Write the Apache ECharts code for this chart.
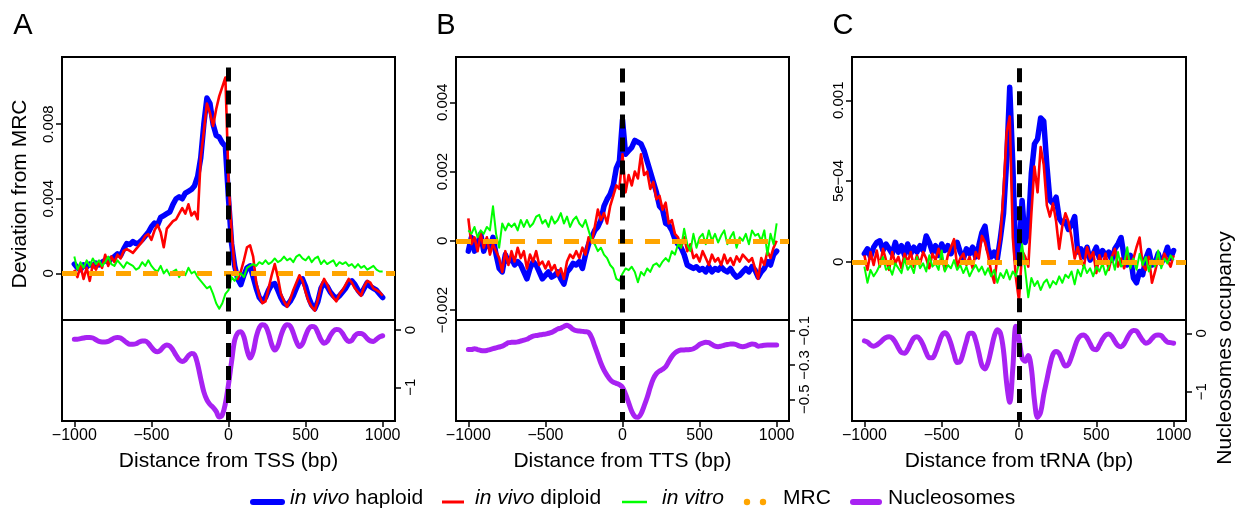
<!DOCTYPE html>
<html>
<head>
<meta charset="utf-8">
<script src="https://cdn.jsdelivr.net/npm/echarts@6/dist/echarts.min.js"></script>
<style>
html,body{margin:0;padding:0;background:#fff;}
#chart{width:1237px;height:510px;}
</style>
</head>
<body>
<div id="chart"></div>
<script>
// ---------------- DATA ----------------
const positions = [-1000,-980,-960,-940,-920,-900,-880,-860,-840,-820,
-800,-780,-760,-740,-720,-700,-680,-660,-640,-620,
-600,-580,-560,-540,-520,-500,-480,-460,-440,-420,
-400,-380,-360,-340,-320,-300,-280,-260,-240,-220,
-200,-180,-160,-140,-120,-100,-80,-60,-40,-20,
0,20,40,60,80,100,120,140,160,180,
200,220,240,260,280,300,320,340,360,380,
400,420,440,460,480,500,520,540,560,580,
600,620,640,660,680,700,720,740,760,780,
800,820,840,860,880,900,920,940,960,980,
1000];

// Panel A (TSS) deviation values, in units of 1e-3
const aHaploid = [0.5,0.3,0.2,0.45,0.35,0.5,0.4,0.55,0.45,0.6,
0.7,0.6,0.8,0.9,1.05,0.95,1.3,1.6,1.55,1.7,
1.6,1.65,1.8,2.0,2.2,2.5,2.7,2.6,3.0,3.1,
3.2,3.3,3.7,4.0,4.1,4.0,4.3,4.4,4.5,4.7,
5.2,6.2,8.0,9.4,9.1,8.0,7.4,7.3,7.0,6.8,
4.0,1.6,0.4,-0.3,-0.6,-0.1,0.3,0.4,-0.2,-0.8,
-1.3,-1.5,-1.3,-0.9,-0.6,-0.55,-0.9,-1.3,-1.6,-1.7,
-1.5,-1.2,-0.8,-0.4,-0.3,-0.7,-1.3,-1.7,-1.9,-1.5,
-0.8,-0.5,-0.7,-1.0,-1.2,-1.35,-1.2,-1.0,-0.8,-0.5,
-0.4,-0.6,-0.9,-1.1,-0.8,-0.5,-0.7,-0.8,-0.9,-1.1,
-1.3];
const aDiploid = [0.2,-0.2,0.4,-0.3,0.3,-0.4,0.5,0.2,0.6,0.3,
1.0,0.4,0.9,0.6,1.0,0.8,1.2,1.3,1.2,1.1,
1.3,1.5,1.7,2.0,2.1,1.8,2.3,2.6,2.2,1.4,
2.4,2.6,2.8,2.9,3.2,3.5,3.2,3.7,3.1,3.3,
2.9,6.2,7.6,9.1,8.6,7.9,8.8,9.5,10.0,10.5,
5.0,2.2,0.3,-0.3,0.1,0.7,1.4,1.5,0.9,-0.5,
-1.2,-1.6,-1.5,-0.8,-0.1,0.5,-0.2,-1.1,-1.5,-1.8,
-1.4,-0.9,-0.5,-0.1,-0.4,-1.0,-1.5,-1.8,-2.0,-1.4,
-0.7,-0.3,-0.6,-1.0,-1.3,-1.5,-1.1,-0.9,-0.6,-0.3,
-0.5,-0.8,-1.0,-1.2,-0.7,-0.4,-0.5,-0.8,-0.9,-1.0,
-1.2];
const aVitro = [0.9,0.2,0.6,0.3,0.7,0.4,0.8,0.5,0.7,0.4,
0.6,0.9,0.5,0.4,0.7,0.5,0.3,0.6,0.5,0.4,
0.2,0.3,0.6,0.4,0.7,0.4,0.2,0.1,0.4,0.0,
0.2,-0.1,0.1,0.2,-0.2,0.1,-0.1,0.3,0.0,0.1,
-0.2,-0.4,-0.6,-0.8,-0.7,-1.1,-1.6,-1.9,-1.6,-1.1,
-0.9,-0.2,-0.4,-0.1,0.0,-0.2,0.3,0.4,0.5,0.4,
0.6,0.5,0.7,0.5,0.6,0.8,0.6,0.7,0.9,0.7,
0.8,0.6,0.9,1.0,0.8,0.7,0.9,0.6,0.8,0.9,
0.5,0.7,0.5,0.6,0.7,0.4,0.6,0.5,0.6,0.4,
0.5,0.3,0.5,0.3,0.4,0.2,0.3,0.4,0.2,0.1,
0.1];
const aNucleo = [-0.16,-0.16,-0.15,-0.14,-0.13,-0.13,-0.14,-0.17,-0.2,-0.21,
-0.21,-0.2,-0.17,-0.14,-0.13,-0.14,-0.18,-0.22,-0.25,-0.25,
-0.24,-0.21,-0.19,-0.19,-0.23,-0.3,-0.36,-0.38,-0.35,-0.29,
-0.26,-0.28,-0.35,-0.44,-0.52,-0.55,-0.52,-0.45,-0.41,-0.43,
-0.6,-0.85,-1.08,-1.22,-1.3,-1.35,-1.42,-1.52,-1.48,-1.28,
-0.95,-0.55,-0.18,-0.05,-0.03,-0.12,-0.35,-0.49,-0.38,-0.12,
0.04,0.09,0.07,-0.06,-0.25,-0.35,-0.28,-0.1,0.04,0.09,
0.07,-0.05,-0.2,-0.29,-0.24,-0.1,0.02,0.06,0.05,-0.05,
-0.17,-0.23,-0.2,-0.1,-0.02,0.01,0.0,-0.06,-0.15,-0.2,
-0.18,-0.1,-0.06,-0.06,-0.09,-0.15,-0.19,-0.2,-0.16,-0.12,
-0.1];

// Panel B (TTS) deviation values, in units of 1e-3
const bHaploid = [-0.3,0.1,-0.3,-0.1,0.2,-0.3,0.0,-0.2,0.1,-0.4,
-0.8,-0.9,-0.4,-0.6,-0.5,-0.7,-0.6,-0.7,-0.9,-1.1,
-0.8,-0.6,-0.7,-0.9,-1.1,-1.0,-0.9,-1.05,-1.0,-0.9,
-1.1,-1.25,-0.9,-0.8,-0.65,-0.7,-0.6,-0.8,-0.4,-0.1,
0.1,0.3,0.4,0.6,1.0,1.2,1.35,1.6,2.1,2.3,
3.5,2.5,2.6,2.7,2.9,2.85,2.8,2.6,2.3,2.0,
1.7,1.4,1.0,0.9,0.5,0.45,0.3,0.05,-0.1,-0.2,
-0.4,-0.7,-0.75,-0.8,-0.75,-0.85,-0.8,-0.9,-0.75,-0.9,
-0.8,-0.85,-0.75,-0.85,-0.9,-0.8,-0.95,-1.05,-1.0,-0.9,
-0.8,-0.9,-0.75,-0.85,-1.05,-0.9,-0.8,-0.6,-0.7,-0.4,
-0.3];
const bDiploid = [0.65,-0.1,0.1,-0.3,0.2,-0.2,0.1,-0.4,-0.1,-0.3,
-0.5,-0.9,-0.3,-0.7,-0.3,-0.6,-0.2,-0.5,-0.3,-0.8,
-0.4,-0.6,-0.3,-0.7,-0.6,-0.8,-0.6,-0.85,-0.7,-1.0,
-0.8,-1.1,-0.6,-0.4,-0.5,-0.3,-0.5,-0.2,-0.4,0.1,
-0.05,0.4,0.9,0.6,0.8,0.5,1.0,1.3,1.6,1.5,
2.5,1.4,1.9,1.6,2.0,1.8,2.5,1.9,2.0,1.5,
1.7,1.2,1.3,0.9,1.1,0.5,0.6,0.2,0.1,-0.2,
0.1,-0.3,-0.1,-0.5,-0.4,-0.6,-0.3,-0.5,-0.7,-0.4,
-0.6,-0.5,-0.7,-0.4,-0.65,-0.5,-0.7,-0.45,-0.6,-0.4,
-0.5,-0.6,-0.5,-0.8,-1.1,-0.5,-0.7,-0.3,-0.5,-0.2,
0.0];
const bVitro = [0.3,0.2,0.4,0.1,0.3,0.2,0.4,0.3,1.0,0.2,
-0.2,0.5,0.3,0.5,0.4,0.5,0.3,0.6,0.4,0.6,
0.4,0.5,0.7,0.75,0.5,0.6,0.4,0.7,0.5,0.6,
0.8,0.5,0.7,0.4,0.6,0.7,0.5,0.4,0.6,0.3,
0.0,-0.1,-0.3,-0.2,-0.4,-0.5,-0.7,-0.8,-1.1,-1.15,
-0.95,-0.8,-0.85,-0.75,-0.9,-1.2,-0.9,-1.0,-0.8,-0.9,
-0.7,-0.65,-0.75,-0.6,-0.5,-0.6,-0.3,-0.4,-0.1,-0.2,
0.35,-0.1,-0.3,0.2,-0.2,0.1,0.2,-0.1,0.3,0.0,
0.2,-0.05,0.15,0.3,-0.1,0.1,0.25,-0.2,0.1,0.0,
0.2,-0.1,0.3,0.15,0.2,0.0,0.3,-0.4,0.2,-0.1,
0.5];
const bNucleo = [-0.21,-0.21,-0.205,-0.21,-0.215,-0.217,-0.215,-0.21,-0.205,-0.2,
-0.195,-0.19,-0.18,-0.17,-0.168,-0.167,-0.165,-0.16,-0.155,-0.15,
-0.14,-0.132,-0.128,-0.125,-0.122,-0.12,-0.115,-0.11,-0.1,-0.09,
-0.085,-0.075,-0.068,-0.078,-0.092,-0.1,-0.102,-0.104,-0.106,-0.11,
-0.14,-0.19,-0.24,-0.29,-0.33,-0.36,-0.385,-0.4,-0.407,-0.415,
-0.43,-0.47,-0.52,-0.57,-0.6,-0.605,-0.585,-0.54,-0.49,-0.43,
-0.38,-0.35,-0.335,-0.325,-0.31,-0.28,-0.25,-0.23,-0.218,-0.213,
-0.212,-0.211,-0.21,-0.205,-0.195,-0.18,-0.172,-0.168,-0.17,-0.18,
-0.19,-0.193,-0.19,-0.185,-0.18,-0.178,-0.177,-0.182,-0.19,-0.193,
-0.19,-0.183,-0.178,-0.18,-0.19,-0.188,-0.185,-0.184,-0.184,-0.183,
-0.183];

// Panel C (tRNA) deviation values, in units of 1e-4
const cHaploid = [0.5,0.8,0.3,0.9,1.2,1.3,0.7,1.1,0.8,0.5,
1.2,0.6,1.0,0.4,1.1,0.5,0.9,0.6,1.0,0.7,
1.6,1.2,0.6,1.0,0.4,1.1,0.7,1.0,0.5,0.9,
1.2,0.6,0.2,0.8,0.5,0.9,0.3,1.0,1.8,2.2,
0.8,0.3,0.6,0.2,1.5,3.0,6.2,10.8,6.0,0.2,
0.5,3.8,1.2,2.0,5.5,7.3,7.6,8.9,8.7,6.0,
3.8,3.6,4.0,2.7,2.4,2.5,2.0,2.3,2.8,0.6,
0.8,0.3,0.9,0.1,0.5,0.9,0.2,0.7,0.4,0.6,
0.1,0.8,1.1,1.5,0.3,-0.2,0.4,-1.0,-1.3,-0.6,
-0.8,0.2,0.7,-0.2,-0.1,0.5,-0.1,0.3,0.9,0.2,
0.7];
const cDiploid = [0.4,-0.5,0.6,-0.2,0.7,-0.3,0.8,0.1,-0.5,0.6,
-0.1,0.3,-0.4,0.5,0.0,0.6,-0.3,0.4,-0.1,0.6,
0.2,-0.4,0.5,0.1,0.8,0.3,-0.5,0.4,0.9,1.4,
-0.3,0.2,0.5,-0.2,0.3,-0.4,0.6,0.2,1.6,1.2,
0.4,-0.6,-1.3,0.3,1.5,4.4,8.0,9.0,1.5,-1.0,
-2.4,0.7,0.3,-0.3,3.0,5.9,4.3,7.1,6.0,3.5,
2.8,3.6,2.5,0.8,2.2,3.0,2.5,1.5,0.2,0.9,
0.1,-0.3,0.9,0.2,0.6,-0.7,0.4,-0.2,0.5,-0.5,
0.3,0.8,-0.3,0.2,-0.4,0.5,-0.1,0.2,0.9,1.5,
-0.2,-0.5,0.3,-1.3,-0.6,0.2,-0.2,0.5,0.1,-0.3,
0.4];
const cVitro = [-0.3,-1.3,-0.5,-0.9,-0.6,-0.2,0.3,-0.5,-0.3,-0.8,
-0.1,-0.4,-0.7,0.2,-0.5,-0.2,-0.7,0.3,-0.4,-0.1,
-0.6,0.4,-0.3,-0.1,-0.5,0.7,-0.6,-0.2,-0.4,0.1,
-0.5,-0.2,-0.7,-0.3,-0.9,-0.5,-0.2,-0.6,-0.3,-0.8,
-0.4,-0.9,-0.5,-1.3,-0.7,-1.0,-0.5,-1.1,-0.6,-0.9,
-0.1,1.1,-0.5,-2.2,-1.0,-1.5,-1.2,-1.75,-1.3,-1.1,
-1.6,-1.2,-1.4,-0.9,-1.3,-0.8,-1.0,-0.6,-1.4,-0.5,
-0.9,-0.2,-0.7,-0.4,-0.9,-0.3,-0.6,-0.1,-0.8,-0.3,
0.3,-0.5,0.6,-0.3,-0.1,0.9,-0.4,0.2,-0.5,0.5,
-0.2,0.3,-0.6,0.1,-0.3,0.7,-0.4,0.2,-0.1,0.4,
0.1];
const cNucleo = [-0.13,-0.15,-0.2,-0.22,-0.2,-0.16,-0.11,-0.07,-0.06,-0.08,
-0.15,-0.25,-0.33,-0.34,-0.28,-0.17,-0.08,-0.06,-0.1,-0.2,
-0.33,-0.42,-0.42,-0.33,-0.18,-0.04,0.01,-0.04,-0.18,-0.36,
-0.5,-0.48,-0.33,-0.14,0.0,0.0,-0.12,-0.33,-0.55,-0.61,
-0.5,-0.28,-0.05,0.06,0.0,-0.3,-0.85,-1.18,-0.6,0.12,
-0.1,-0.42,-0.48,-0.38,-0.6,-1.15,-1.44,-1.35,-1.05,-0.8,
-0.55,-0.36,-0.31,-0.35,-0.47,-0.56,-0.53,-0.4,-0.24,-0.1,
-0.04,-0.03,-0.08,-0.18,-0.27,-0.28,-0.2,-0.1,-0.03,-0.01,
-0.05,-0.14,-0.21,-0.23,-0.18,-0.08,0.01,0.05,0.04,-0.04,
-0.12,-0.17,-0.15,-0.09,-0.04,-0.03,-0.04,-0.1,-0.15,-0.16,
-0.17];

const mrcLevel = 0;      // MRC reference (deviation from itself)
const siteCenter = 0;    // TSS / TTS / tRNA position

// Tick values and labels
const xTicks = [-1000, -500, 0, 500, 1000];
const xTickLabels = ['\u22121000', '\u2212500', '0', '500', '1000'];
const aTopTicks = [0, 0.004, 0.008];
const aTopTickLabels = ['0', '0.004', '0.008'];
const aBotTicks = [0, -1];
const aBotTickLabels = ['0', '\u22121'];
const bTopTicks = [-0.002, 0, 0.002, 0.004];
const bTopTickLabels = ['\u22120.002', '0', '0.002', '0.004'];
const bBotTicks = [-0.5, -0.3, -0.1];
const bBotTickLabels = ['\u22120.5', '\u22120.3', '\u22120.1'];
const cTopTicks = [0, 0.0005, 0.001];
const cTopTickLabels = ['0', '5e\u221204', '0.001'];
const cBotTicks = [0, -1];
const cBotTickLabels = ['0', '\u22121'];

const xTitles = ['Distance from TSS (bp)', 'Distance from TTS (bp)', 'Distance from tRNA (bp)'];
const panelLetters = ['A', 'B', 'C'];

// ---------------- CHART ----------------
const FONT = "'Liberation Sans', Arial, Helvetica, sans-serif";
const COL = {hap:'#0000FF', dip:'#FF0000', vit:'#00FF00', mrc:'#FFA500', nuc:'#A822F2'};

const panels = [
  {left:62, width:333, unit:1e-3, hap:aHaploid, dip:aDiploid, vit:aVitro, nuc:aNucleo,
   topMin:-0.0025, topMax:0.0116, botMin:-1.588, botMax:0.1745, dashTop:0.01104,
   topTicks:aTopTicks, topLabels:aTopTickLabels, botTicks:aBotTicks, botLabels:aBotTickLabels},
  {left:456, width:333, unit:1e-3, hap:bHaploid, dip:bDiploid, vit:bVitro, nuc:bNucleo,
   topMin:-0.002289, topMax:0.00531, botMin:-0.6265, botMax:-0.0376, dashTop:0.00498,
   topTicks:bTopTicks, topLabels:bTopTickLabels, botTicks:bBotTicks, botLabels:bBotTickLabels},
  {left:852, width:334, unit:1e-4, hap:cHaploid, dip:cDiploid, vit:cVitro, nuc:cNucleo,
   topMin:-0.0003605, topMax:0.0012678, botMin:-1.5017, botMax:0.2277, dashTop:0.001198,
   topTicks:cTopTicks, topLabels:cTopTickLabels, botTicks:cBotTicks, botLabels:cBotTickLabels}
];

function lookup(ticks, labels){
  return function(v){
    for (let i=0;i<ticks.length;i++){ if (Math.abs(ticks[i]-v) < 1e-9) return labels[i]; }
    return '';
  };
}

const grids = [], xAxes = [], yAxes = [], series = [];
const tickStyle = {color:'#000', width:1.5};

panels.forEach((p, k) => {
  const gt = 2*k, gb = 2*k+1;
  grids.push({left:p.left, width:p.width, top:57, height:263, show:true, borderColor:'#000', borderWidth:2, backgroundColor:'transparent', outerBoundsMode:'none', containLabel:false});
  grids.push({left:p.left, width:p.width, top:320, height:101, show:true, borderColor:'#000', borderWidth:2, backgroundColor:'transparent', outerBoundsMode:'none', containLabel:false});

  xAxes.push({gridIndex:gt, type:'value', min:-1080, max:1080, show:false, splitLine:{show:false}});
  xAxes.push({gridIndex:gb, type:'value', min:-1080, max:1080, position:'bottom',
    axisLine:{show:true, onZero:false, lineStyle:{color:'#000', width:2}},
    axisTick:{show:true, length:6, lineStyle:tickStyle, customValues:xTicks},
    axisLabel:{show:true, customValues:xTicks, formatter:lookup(xTicks, xTickLabels), margin:7, fontSize:16, color:'#000', fontFamily:FONT},
    splitLine:{show:false},
    name:xTitles[k], nameLocation:'middle', nameGap:30,
    nameTextStyle:{fontSize:21, color:'#000', fontFamily:FONT}});

  yAxes.push({gridIndex:gt, type:'value', min:p.topMin, max:p.topMax, position:'left',
    axisLine:{show:false, onZero:false},
    axisTick:{show:true, length:6, lineStyle:tickStyle, customValues:p.topTicks},
    axisLabel:{show:true, customValues:p.topTicks, formatter:lookup(p.topTicks, p.topLabels), rotate:90, margin:6, fontSize:15, color:'#000', fontFamily:FONT},
    splitLine:{show:false}});
  yAxes.push({gridIndex:gb, type:'value', min:p.botMin, max:p.botMax, position:'right',
    axisLine:{show:false, onZero:false},
    axisTick:{show:true, length:6, lineStyle:tickStyle, customValues:p.botTicks},
    axisLabel:{show:true, customValues:p.botTicks, formatter:lookup(p.botTicks, p.botLabels), rotate:90, margin:8, fontSize:15, color:'#000', fontFamily:FONT},
    splitLine:{show:false}});

  const mk = (vals, unit) => positions.map((x, i) => [x, vals[i]*unit]);
  series.push({name:'in vivo haploid', type:'line', xAxisIndex:gt, yAxisIndex:gt, data:mk(p.hap, p.unit), showSymbol:false, symbol:'none', z:2,
    lineStyle:{color:COL.hap, width:5.5, join:'round', cap:'round'}});
  series.push({name:'in vivo diploid', type:'line', xAxisIndex:gt, yAxisIndex:gt, data:mk(p.dip, p.unit), showSymbol:false, symbol:'none', z:3,
    lineStyle:{color:COL.dip, width:2.6, join:'round'}});
  series.push({name:'in vitro', type:'line', xAxisIndex:gt, yAxisIndex:gt, data:mk(p.vit, p.unit), showSymbol:false, symbol:'none', z:4,
    lineStyle:{color:COL.vit, width:2, join:'round'}});
  series.push({name:'MRC', type:'line', xAxisIndex:gt, yAxisIndex:gt, data:[], symbol:'none', z:5,
    markLine:{silent:true, symbol:['none','none'], label:{show:false}, animation:false,
      lineStyle:{color:COL.mrc, width:5, type:[15,12]}, data:[{yAxis:mrcLevel}]}});
  series.push({name:'Nucleosomes', type:'line', xAxisIndex:gb, yAxisIndex:gb, data:mk(p.nuc, 1), showSymbol:false, symbol:'none', smooth:0.35, z:4,
    lineStyle:{color:COL.nuc, width:5, join:'round', cap:'round'}});
  series.push({name:'site', type:'line', xAxisIndex:gt, yAxisIndex:gt, data:[], symbol:'none', z:10,
    markLine:{silent:true, symbol:['none','none'], label:{show:false}, animation:false,
      lineStyle:{color:'#000', width:5, type:[14,9]},
      data:[[{coord:[siteCenter, p.dashTop]}, {coord:[siteCenter, p.topMin]}]]}});
  series.push({name:'site2', type:'line', xAxisIndex:gb, yAxisIndex:gb, data:[], symbol:'none', z:10,
    markLine:{silent:true, symbol:['none','none'], label:{show:false}, animation:false,
      lineStyle:{color:'#000', width:5, type:[14,9]},
      data:[[{coord:[siteCenter, p.botMax]}, {coord:[siteCenter, p.botMin]}]]}});
});

// Graphic texts (panel letters, axis titles, legend)
const graphics = [];
const letterX = [23, 446, 843];
panelLetters.forEach((L, k) => {
  graphics.push({type:'text', x:letterX[k], y:26, style:{text:L, fontSize:29, fontFamily:FONT, fill:'#000', align:'center', verticalAlign:'middle', textAlign:'center', textVerticalAlign:'middle'}});
});
graphics.push({type:'text', x:20, y:194, rotation:Math.PI/2, style:{text:'Deviation from MRC', fontSize:21, fontFamily:FONT, fill:'#000', align:'center', verticalAlign:'middle', textAlign:'center', textVerticalAlign:'middle'}});
graphics.push({type:'text', x:1225, y:348, rotation:Math.PI/2, style:{text:'Nucleosomes occupancy', fontSize:21, fontFamily:FONT, fill:'#000', align:'center', verticalAlign:'middle', textAlign:'center', textVerticalAlign:'middle'}});

const legendY = 502, legendTextY = 498;
const richI = {i:{fontStyle:'italic', fontSize:21, fontFamily:FONT, fill:'#000'}};
function legendText(x, txt){
  graphics.push({type:'text', x:x, y:legendTextY, style:{text:txt, fontSize:21, fontFamily:FONT, fill:'#000', align:'left', verticalAlign:'middle', textAlign:'left', textVerticalAlign:'middle', rich:richI}});
}
graphics.push({type:'line', shape:{x1:253, y1:legendY, x2:282, y2:legendY}, style:{stroke:COL.hap, lineWidth:6, lineCap:'round'}});
legendText(290, '{i|in vivo} haploid');
graphics.push({type:'line', shape:{x1:442, y1:legendY, x2:464, y2:legendY}, style:{stroke:COL.dip, lineWidth:3}});
legendText(475, '{i|in vivo} diploid');
graphics.push({type:'line', shape:{x1:622, y1:legendY, x2:647, y2:legendY}, style:{stroke:COL.vit, lineWidth:2.5}});
legendText(662, '{i|in vitro}');
graphics.push({type:'circle', shape:{cx:747, cy:legendY, r:3.2}, style:{fill:COL.mrc}});
graphics.push({type:'circle', shape:{cx:763, cy:legendY, r:3.2}, style:{fill:COL.mrc}});
legendText(783, 'MRC');
graphics.push({type:'line', shape:{x1:853, y1:legendY, x2:879, y2:legendY}, style:{stroke:COL.nuc, lineWidth:6, lineCap:'round'}});
legendText(888, 'Nucleosomes');

const chart = echarts.init(document.getElementById('chart'), null, {renderer:'canvas'});
chart.setOption({
  animation:false,
  backgroundColor:'#fff',
  textStyle:{fontFamily:FONT},
  grid:grids, xAxis:xAxes, yAxis:yAxes, series:series,
  graphic:{elements:graphics}
});
</script>
</body>
</html>
